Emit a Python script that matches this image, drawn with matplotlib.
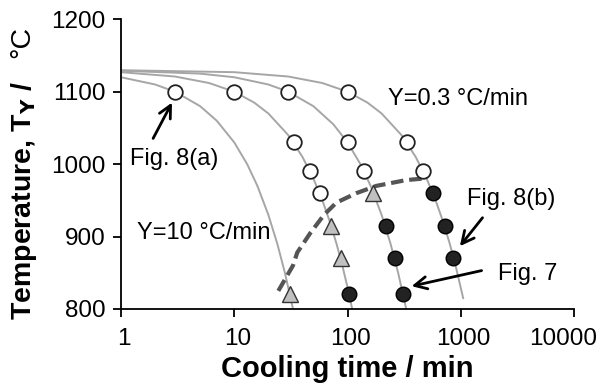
import numpy as np
import matplotlib
matplotlib.use('Agg')
import matplotlib.pyplot as plt
from matplotlib.transforms import ScaledTranslation

plt.rcParams['font.family'] = ['Liberation Sans', 'DejaVu Sans']

# cooling curves (time in min, temperature in C)
t_y10 = [1, 2, 3, 5, 7, 10, 13, 16, 20, 24, 28, 33]
T_y10 = [1120, 1110, 1100, 1080, 1060, 1030, 1000, 970, 930, 890, 850, 800]
t_y3 = [1, 3, 6, 10, 15, 20, 30, 40, 50, 60, 70, 80, 90, 100, 110]
T_y3 = [1127, 1121, 1112, 1100, 1085, 1070, 1040, 1010, 980, 950, 920, 890, 860, 830, 800]
t_y1 = [1, 5, 10, 20, 30, 50, 75, 100, 130, 160, 200, 240, 280, 330]
T_y1 = [1129, 1125, 1120, 1110, 1100, 1080, 1055, 1030, 1000, 970, 930, 890, 850, 800]
t_y03 = [1, 10, 30, 60, 100, 150, 200, 300, 400, 500, 600, 700, 800, 900, 1050]
T_y03 = [1129.7, 1127, 1121, 1112, 1100, 1085, 1070, 1040, 1010, 980, 950, 920, 890, 860, 815]

# boundary (dashed)
t_dash = [24.5, 33, 36, 47, 62, 80, 120, 180, 330, 460]
T_dash = [825, 860, 878, 905, 930, 947, 960, 970, 978, 980]

# markers
t_open = [3, 10, 30, 100, 33.6, 101, 332, 47, 140, 466, 57]
T_open = [1100, 1100, 1100, 1100, 1030, 1030, 1030, 990, 990, 990, 960]
t_tri = [31, 71, 87, 169]
T_tri = [820, 915, 870, 960]
t_fill = [103, 218, 262, 310, 564, 724, 857]
T_fill = [820, 915, 870, 820, 960, 915, 870]

x_ticks = [1, 10, 100, 1000, 10000]
x_ticklabels = ['1', '10', '100', '1000', '10000']
y_ticks = [800, 900, 1000, 1100, 1200]

fig = plt.figure(figsize=(6.03, 3.87), dpi=100)
ax = fig.add_axes([0.2007, 0.2016, 0.7512, 0.7485])

curve_col = '#a6a6a6'
for t, T in [(t_y10, T_y10), (t_y3, T_y3), (t_y1, T_y1), (t_y03, T_y03)]:
    ax.plot(t, T, color=curve_col, linewidth=1.4, zorder=2)

ax.plot(t_dash, T_dash, color='#555555', linewidth=3, dashes=(3, 1.4), zorder=3)

ax.plot(t_open, T_open, linestyle='none', marker='o', markersize=10.5,
        markerfacecolor='white', markeredgecolor='#222222', markeredgewidth=1.3, zorder=4)
ax.plot(t_tri, T_tri, linestyle='none', marker='^', markersize=11,
        markerfacecolor='#c0c0c0', markeredgecolor='#333333', markeredgewidth=1.0, zorder=4)
ax.plot(t_fill, T_fill, linestyle='none', marker='o', markersize=10.5,
        markerfacecolor='#222222', markeredgecolor='black', markeredgewidth=1.0, zorder=4)

ax.set_xscale('log')
ax.set_xlim(1, 10000)
ax.set_ylim(800, 1200)
ax.set_xticks(x_ticks)
ax.set_xticklabels(x_ticklabels)
ax.xaxis.set_minor_locator(matplotlib.ticker.NullLocator())
ax.set_yticks(y_ticks)

for s in ['top', 'right']:
    ax.spines[s].set_visible(False)
for s in ['left', 'bottom']:
    ax.spines[s].set_linewidth(1.3)
ax.tick_params(axis='both', direction='out', length=6, width=1.3, labelsize=17.5, pad=5)
ax.tick_params(axis='x', pad=8)

# shift x tick labels slightly right, the last one pulled inside the figure
for i, lab in enumerate(ax.get_xticklabels()):
    dx = 3 / 100 if i < len(x_ticks) - 1 else -11 / 100
    lab.set_transform(lab.get_transform() + ScaledTranslation(dx, 0, fig.dpi_scale_trans))

ax.set_xlabel('Cooling time / min', fontsize=21, fontweight='bold', labelpad=3)

# y label: bold part and plain degree part
fig.text(24 / 603, 1 - 201 / 387, r'Temperature, T$_{\mathbf{Y}}$ /', rotation=90,
         fontsize=20.5, fontweight='bold', ha='center', va='center')
fig.text(22 / 603, 1 - 42 / 387, '°C', rotation=90, fontsize=20.5,
         ha='center', va='center')

# labels
ax.text(1.376, 896, 'Y=10 °C/min', fontsize=17, ha='left', va='baseline')
ax.text(227, 1081, 'Y=0.3 °C/min', fontsize=17, ha='left', va='baseline')
ax.text(1.2, 999, 'Fig. 8(a)', fontsize=17, ha='left', va='baseline')
ax.text(1125, 944, 'Fig. 8(b)', fontsize=17, ha='left', va='baseline')
ax.text(2125, 840, 'Fig. 7', fontsize=17, ha='left', va='baseline')

arrow = dict(arrowstyle='->', color='black', linewidth=2, mutation_scale=22,
             shrinkA=0, shrinkB=0)
ax.annotate('', xy=(2.82, 1085), xytext=(1.92, 1035.5), arrowprops=arrow)
ax.annotate('', xy=(982, 886.7), xytext=(1557, 926), arrowprops=arrow)
ax.annotate('', xy=(368, 831.5), xytext=(1527, 853), arrowprops=arrow)

plt.savefig('out.png', dpi=100)
